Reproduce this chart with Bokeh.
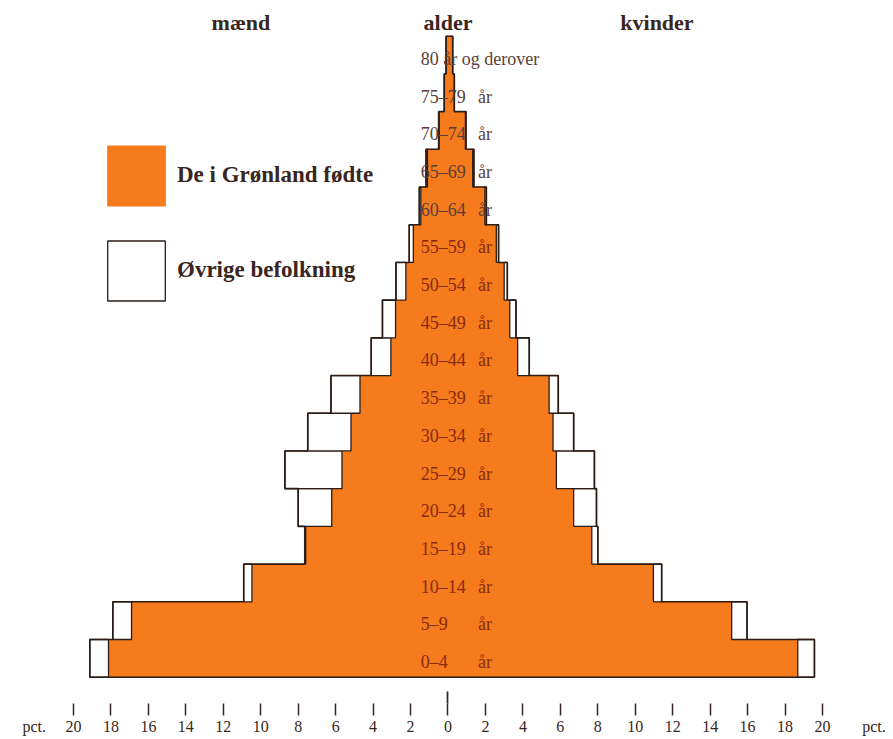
from bokeh.plotting import figure
from bokeh.models import (Range1d, LinearAxis, FixedTicker, Legend, LegendItem,
                          ColumnDataSource)
from bokeh.core.properties import value
from bokeh.embed import file_html
from bokeh.resources import INLINE

# ---- data (percent of each sex), bottom (0-4) to top (80+) ----
age_ranges = ["0–4", "5–9", "10–14", "15–19", "20–24", "25–29", "30–34", "35–39",
              "40–44", "45–49", "50–54", "55–59", "60–64", "65–69", "70–74", "75–79",
              "80 år og derover"]
age_suffix = ["år"] * 16 + [""]

men_greenland = [18.13, 16.9, 10.47, 7.6, 6.21, 5.66, 5.18, 4.70, 3.05, 2.8, 2.25,
                 1.85, 1.45, 1.1, 0.47, 0.2, 0.1]
men_other = [1.0, 1.0, 0.44, 0.05, 1.79, 3.05, 2.31, 1.55, 1.05, 0.7, 0.53,
             0.22, 0.08, 0.07, 0.03, 0.0, 0.0]
women_greenland = [18.68, 15.15, 10.97, 7.68, 6.71, 5.79, 5.61, 5.40, 3.72, 3.3, 3.0,
                   2.58, 1.97, 1.32, 0.93, 0.34, 0.25]
women_other = [0.89, 0.82, 0.44, 0.32, 1.22, 2.03, 1.1, 0.49, 0.62, 0.33, 0.17,
               0.12, 0.08, 0.06, 0.03, 0.0, 0.0]

tick_values = list(range(-20, 21, 2))
tick_labels = [str(abs(v)) for v in tick_values]
unit_label = "pct."

headers = ["mænd", "alder", "kvinder"]
legend_labels = ["De i Grønland fødte", "Øvrige befolkning"]

# ---- styling ----
ORANGE = "#F57B1C"
DARK = "#3a2620"
LINE = "#2b1d16"
SERIF = "Liberation Serif"
FRAME_H = 703

n = len(age_ranges)
bottoms = list(range(n))
tops = [b + 1 for b in bottoms]

p = figure(frame_width=893, frame_height=FRAME_H,
           x_range=Range1d(-23.898, 23.792), y_range=Range1d(-0.6975, 17.947),
           x_axis_type=None, y_axis_type=None,
           output_backend="svg", toolbar_location=None,
           min_border=0, outline_line_color=None)
p.grid.visible = False
p.background_fill_color = "white"
p.border_fill_color = "white"

# Greenland-born (orange)
src_m_gl = ColumnDataSource(dict(left=[-v for v in men_greenland], right=[0] * n,
                                 bottom=bottoms, top=tops))
src_w_gl = ColumnDataSource(dict(left=[0] * n, right=women_greenland,
                                 bottom=bottoms, top=tops))
r_gl_m = p.quad(left="left", right="right", bottom="bottom", top="top",
                source=src_m_gl, fill_color=ORANGE, line_color=ORANGE, line_width=1)
p.quad(left="left", right="right", bottom="bottom", top="top",
       source=src_w_gl, fill_color=ORANGE, line_color=ORANGE, line_width=1)

# other population (white boxes, outer part)
src_m_ov = ColumnDataSource(dict(left=[-(g + o) for g, o in zip(men_greenland, men_other)],
                                 right=[-g for g in men_greenland],
                                 bottom=bottoms, top=tops))
src_w_ov = ColumnDataSource(dict(left=women_greenland,
                                 right=[g + o for g, o in zip(women_greenland, women_other)],
                                 bottom=bottoms, top=tops))
r_ov_m = p.quad(left="left", right="right", bottom="bottom", top="top",
                source=src_m_ov, fill_color="white", line_color=LINE, line_width=1.3)
p.quad(left="left", right="right", bottom="bottom", top="top",
       source=src_w_ov, fill_color="white", line_color=LINE, line_width=1.3)

# outline of the whole pyramid
men_tot = [g + o for g, o in zip(men_greenland, men_other)]
women_tot = [g + o for g, o in zip(women_greenland, women_other)]
xs, ys = [0], [0]
for i in range(n):
    xs += [-men_tot[i], -men_tot[i]]
    ys += [i, i + 1]
for i in reversed(range(n)):
    xs += [women_tot[i], women_tot[i]]
    ys += [i + 1, i]
xs.append(0)
ys.append(0)
p.patch(xs, ys, fill_color=None, line_color=LINE, line_width=1.6)

# age labels
label_colors = ["#8a2a12"] * 12 + ["#5a4038"] * 5
p.text(x=[-1.45] * n, y=[b + 0.4 for b in bottoms], text=age_ranges,
       text_font=value(SERIF), text_font_size="18px", text_color=label_colors,
       text_align="left", text_baseline="middle")
p.text(x=[1.6] * n, y=[b + 0.4 for b in bottoms], text=age_suffix,
       text_font=value(SERIF), text_font_size="18px", text_color=label_colors,
       text_align="left", text_baseline="middle")

# column headers
p.text(x=[-11.06, 0, 11.16], y=[17.36] * 3, text=headers,
       text_font=value(SERIF), text_font_style="bold", text_font_size="22px",
       text_color=DARK, text_align="center", text_baseline="middle")

# legend (bokeh insets area glyphs by 10% on each side)
legend = Legend(items=[LegendItem(label=legend_labels[0], renderers=[r_gl_m]),
                       LegendItem(label=legend_labels[1], renderers=[r_ov_m])],
                location=(100, FRAME_H - 307.5), glyph_width=72, glyph_height=75,
                spacing=20, padding=0, margin=0, label_standoff=5,
                border_line_color=None, background_fill_alpha=0,
                label_text_font=SERIF, label_text_font_style="bold",
                label_text_font_size="23px", label_text_color=DARK)
p.add_layout(legend)

# bottom axis, layer 1: upward extension of the 0 tick (no labels)
zero_axis = LinearAxis(
    ticker=FixedTicker(ticks=[], minor_ticks=[0]),
    axis_line_color=None, major_tick_line_color=None,
    minor_tick_in=12, minor_tick_out=0,
    minor_tick_line_color=DARK, minor_tick_line_width=1.8,
    major_label_standoff=0)
p.add_layout(zero_axis, "below")

# bottom axis, layer 2: tick marks (no labels)
tick_axis = LinearAxis(
    ticker=FixedTicker(ticks=[], minor_ticks=tick_values),
    axis_line_color=None, major_tick_line_color=None,
    minor_tick_in=0, minor_tick_out=12,
    minor_tick_line_color=DARK, minor_tick_line_width=1.5,
    major_label_standoff=0)
p.add_layout(tick_axis, "below")

# bottom axis, layer 3: labels (numbers and "pct." at both ends)
label_ticks = [-22.1] + tick_values + [22.75]
label_texts = [unit_label] + tick_labels + [unit_label]
label_axis = LinearAxis(
    ticker=FixedTicker(ticks=label_ticks, minor_ticks=[]),
    major_label_overrides={v: s for v, s in zip(label_ticks, label_texts)},
    axis_line_color=None, major_tick_line_color=None, minor_tick_line_color=None,
    major_tick_out=0, major_tick_in=0, major_label_standoff=2,
    major_label_text_font=SERIF, major_label_text_font_size="16px",
    major_label_text_color=DARK)
p.add_layout(label_axis, "below")

open("out.html", "w").write(file_html(p, INLINE))
